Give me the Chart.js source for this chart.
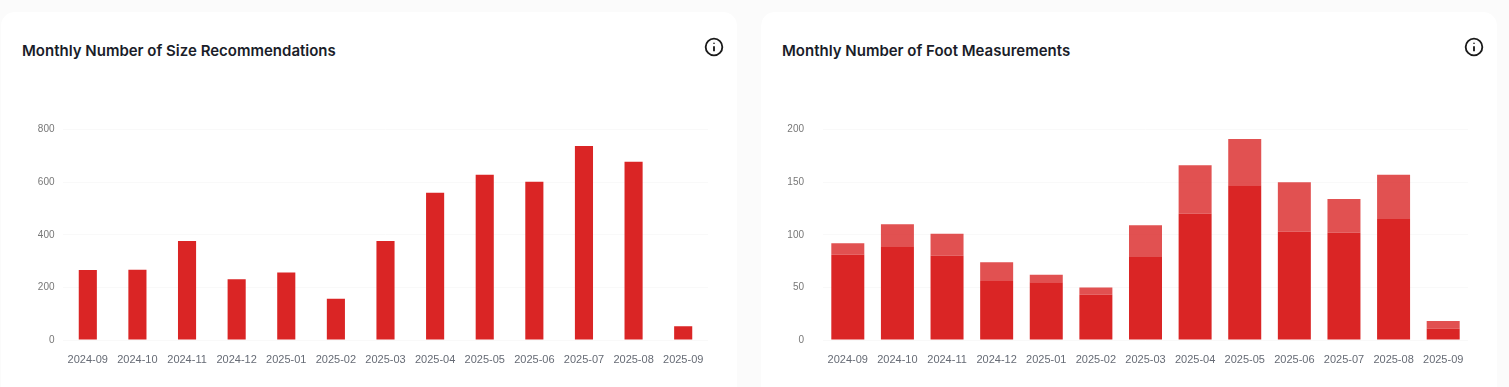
<!DOCTYPE html>
<html>
<head>
    <title>Monthly Numbers</title>
    <script src="https://cdn.jsdelivr.net/npm/chart.js"></script>
    <style>
        html, body {
            margin: 0;
            width: 1509px;
            height: 387px;
            overflow: hidden;
            background: #fbfbfb;
        }
        .card {
            position: absolute;
            top: 12px;
            width: 736px;
            height: 400px;
            background: #fff;
            border-radius: 14px;
        }
        .card h2 {
            position: absolute;
            left: 21px;
            top: 29px;
            margin: 0;
            font: 600 15px/20px Inter, sans-serif;
            color: #1a1d29;
            white-space: nowrap;
        }
        .card svg {
            position: absolute;
            top: 25px;
            width: 20px;
            height: 20px;
        }
        .card canvas {
            position: absolute;
            top: 92px;
        }
    </style>
</head>
<body>
    <div class="card" style="left:1px">
        <h2>Monthly Number of Size Recommendations</h2>
        <svg style="left:702.7px" viewBox="0 0 24 24" fill="none" stroke="#1a1a1a" stroke-width="2.2"><circle cx="12" cy="12" r="10"/><path d="M12 11v6M12 7v1.2"/></svg>
        <canvas id="sizeChart" width="720" height="276" style="left:9px"></canvas>
    </div>
    <div class="card" style="left:761px">
        <h2>Monthly Number of Foot Measurements</h2>
        <svg style="left:702.7px" viewBox="0 0 24 24" fill="none" stroke="#1a1a1a" stroke-width="2.2"><circle cx="12" cy="12" r="10"/><path d="M12 11v6M12 7v1.2"/></svg>
        <canvas id="footChart" width="720" height="276" style="left:9px"></canvas>
    </div>
    <script>
        const months = ['2024-09', '2024-10', '2024-11', '2024-12', '2025-01', '2025-02', '2025-03',
            '2025-04', '2025-05', '2025-06', '2025-07', '2025-08', '2025-09'];
        const sizeRecommendations = [266, 267, 376, 231, 257, 157, 376, 560, 628, 602, 738, 678, 52];
        const footLower = [81, 89, 80, 56, 55, 43, 79, 120, 147, 103, 102, 115, 11];
        const footUpper = [11, 21, 21, 18, 7, 7, 30, 46, 44, 47, 32, 42, 7];

        function drawChart(id, datasets, yMax, yStep, labelGap, barRatio) {
            new Chart(document.getElementById(id), {
                type: 'bar',
                data: { labels: months, datasets: datasets },
                options: {
                    responsive: false,
                    animation: false,
                    // y tick padding also pushes the plot down, so keep top above the bigger one
                    layout: { padding: { top: 25.6, right: 22 } },
                    plugins: { legend: { display: false }, tooltip: { enabled: false } },
                    datasets: { bar: { categoryPercentage: 1, barPercentage: barRatio } },
                    scales: {
                        x: {
                            stacked: true,
                            grid: { display: false, drawTicks: false },
                            border: { display: false },
                            ticks: {
                                autoSkip: false,
                                maxRotation: 0,
                                padding: 13,
                                color: '#666b75',
                                font: { family: 'Liberation Sans', size: 11 }
                            },
                            afterFit: function (scale) { scale.height = 40; }
                        },
                        y: {
                            stacked: true,
                            min: 0,
                            max: yMax,
                            grid: { color: '#f9f9f9', drawTicks: false },
                            border: { display: false },
                            ticks: {
                                stepSize: yStep,
                                padding: labelGap,
                                color: '#777',
                                font: { family: 'Liberation Sans', size: 10 }
                            },
                            afterFit: function (scale) { scale.width = 53; }
                        }
                    }
                }
            });
        }

        drawChart('sizeChart', [
            { label: 'Size Recommendations', data: sizeRecommendations, backgroundColor: '#da2525' }
        ], 800, 200, 8.5, 0.365);

        drawChart('footChart', [
            { label: 'Foot Measurements', data: footLower, backgroundColor: '#da2525' },
            { label: 'Foot Measurements (extra)', data: footUpper, backgroundColor: 'rgba(218, 37, 37, 0.8)' }
        ], 200, 50, 19, 0.665);
    </script>
</body>
</html>
